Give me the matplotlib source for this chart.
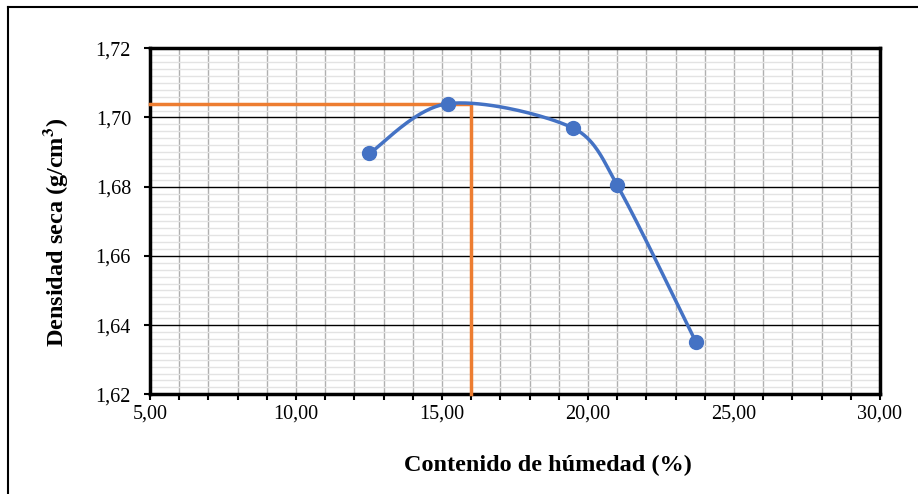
import numpy as np
import matplotlib.pyplot as plt
from matplotlib.ticker import MultipleLocator, FuncFormatter
from matplotlib.lines import Line2D

plt.rcParams['font.family'] = ['Liberation Serif', 'DejaVu Serif']
plt.rcParams['mathtext.fontset'] = 'stix'

# compaction test data
humedad  = [12.51, 15.20, 19.50, 21.00, 23.69]
densidad = [1.6896, 1.7040, 1.6969, 1.6804, 1.6352]

# optimum moisture / max dry density
hum_opt  = 16.0
dens_max = 1.704

x_min, x_max = 5, 30
y_min, y_max = 1.62, 1.72

blue   = '#4472C4'
orange = '#ED7D31'

W_PX, H_PX = 730, 346   # plot area size in pixels


def excel_smooth(xs, ys, n=40):
    # bezier smoothing close to excel's "smoothed line", worked out in pixels
    px = (np.asarray(xs) - x_min) / (x_max - x_min) * W_PX
    py = (np.asarray(ys) - y_min) / (y_max - y_min) * H_PX
    pts = np.column_stack([px, py])
    out = [pts[0]]
    t = np.linspace(0, 1, n)[1:, None]
    for i in range(len(pts) - 1):
        p0 = pts[i - 1] if i > 0 else pts[i]
        p1 = pts[i]
        p2 = pts[i + 1]
        p3 = pts[i + 2] if i + 2 < len(pts) else pts[i + 1]
        d12 = np.linalg.norm(p2 - p1)
        v1 = (p2 - p0) / 6
        v2 = (p3 - p1) / 6
        lim = d12 * 0.35
        if np.linalg.norm(v1) > lim:
            v1 = v1 / np.linalg.norm(v1) * lim
        if np.linalg.norm(v2) > lim:
            v2 = v2 / np.linalg.norm(v2) * lim
        c1 = p1 + v1
        c2 = p2 - v2
        seg = ((1 - t) ** 3) * p1 + 3 * ((1 - t) ** 2) * t * c1 \
              + 3 * (1 - t) * t ** 2 * c2 + t ** 3 * p2
        out.extend(seg)
    out = np.array(out)
    sx = out[:, 0] / W_PX * (x_max - x_min) + x_min
    sy = out[:, 1] / H_PX * (y_max - y_min) + y_min
    return sx, sy


fig = plt.figure(figsize=(9.18, 4.94), dpi=100)
ax = fig.add_axes([150/918, 1 - 394.3/494, W_PX/918, H_PX/494])

ax.set_xlim(x_min, x_max)
ax.set_ylim(y_min, y_max)

ax.xaxis.set_major_locator(MultipleLocator(5))
ax.xaxis.set_minor_locator(MultipleLocator(1))
ax.yaxis.set_major_locator(MultipleLocator(0.02))
ax.yaxis.set_minor_locator(MultipleLocator(0.002))

ax.grid(which='minor', axis='y', color='#e3e3e3', linewidth=1)
ax.grid(which='major', axis='y', color='black', linewidth=1)
ax.grid(which='both', axis='x', color='#b0b0b0', linewidth=1)
ax.set_axisbelow(True)

fmt = FuncFormatter(lambda v, p: f'{v:.2f}'.replace('.', ','))
ax.xaxis.set_major_formatter(fmt)
ax.yaxis.set_major_formatter(fmt)

ax.tick_params(axis='x', which='both', direction='out', length=4.3, width=1.5,
               labelsize=14.5, pad=3)
ax.tick_params(axis='y', which='major', direction='out', length=4.3, width=1.5,
               labelsize=14.5, pad=9.4)
ax.tick_params(axis='y', which='minor', length=0)

for s in ax.spines.values():
    s.set_linewidth(2.5)
    s.set_color('black')

# optimum lines
ax.plot([x_min, hum_opt, hum_opt], [dens_max, dens_max, y_min],
        color=orange, linewidth=2.5, zorder=3, clip_on=False)

sx, sy = excel_smooth(humedad, densidad)
ax.plot(sx, sy, color=blue, linewidth=2.5, zorder=4)
ax.plot(humedad, densidad, 'o', color=blue, markersize=10, zorder=5)

fig.text(548/918, 1 - 465/494, 'Contenido de húmedad (%)', fontsize=17.5,
         fontweight='bold', ha='center', va='center')
fig.text(55/918, 1 - 232/494, 'Densidad seca (g/cm$^{\\mathbf{3}}$)', fontsize=17.5,
         fontweight='bold', ha='center', va='center', rotation=90)

# outer chart frame (top and left edges visible)
fig.add_artist(Line2D([8/918, 8/918], [0, 1 - 7/494], color='black',
                      linewidth=1.5, transform=fig.transFigure))
fig.add_artist(Line2D([8/918, 1], [1 - 7/494, 1 - 7/494], color='black',
                      linewidth=1.5, transform=fig.transFigure))

fig.savefig('out.png', dpi=100)
